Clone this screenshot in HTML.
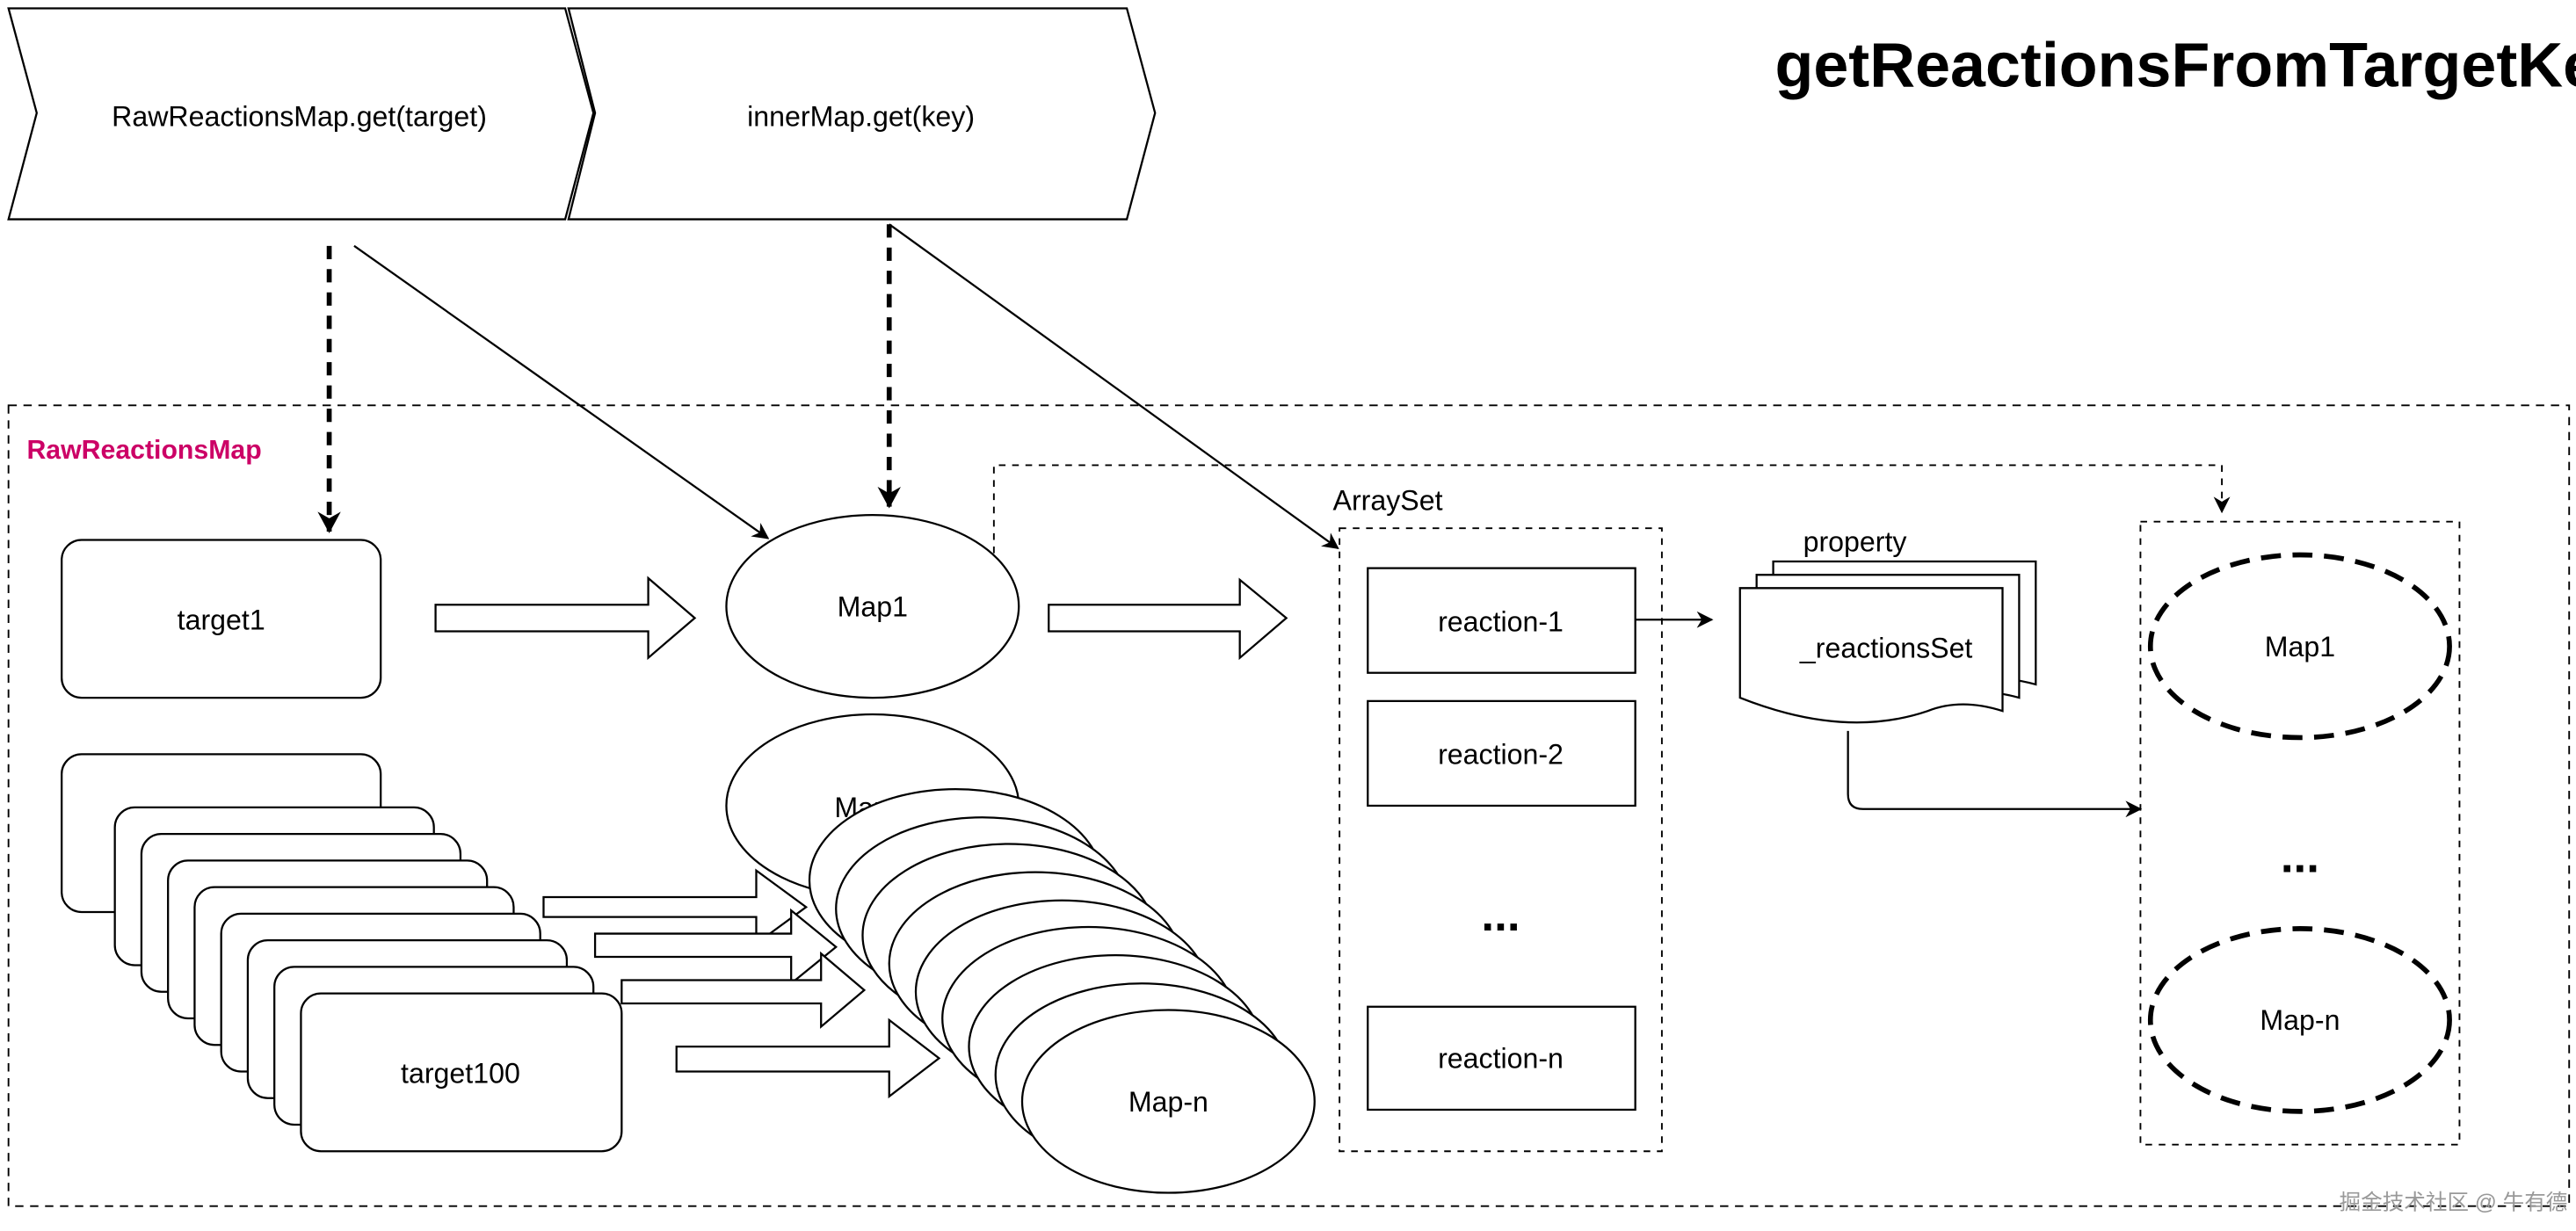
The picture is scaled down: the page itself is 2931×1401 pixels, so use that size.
<!DOCTYPE html>
<html><head><meta charset="utf-8"><style>
html,body{margin:0;padding:0;background:#fff;}
svg{display:block;}
text{font-family:"Liberation Sans",Arial,sans-serif;}
</style></head><body>
<svg width="2931" height="1401" viewBox="0 0 1550 741" xmlns="http://www.w3.org/2000/svg">
<defs>
<marker id="ah" markerWidth="10" markerHeight="10" refX="9" refY="5" orient="auto" markerUnits="userSpaceOnUse">
<path d="M0,0 L10,5 L0,10 L3,5 z" fill="#000"/></marker>
<marker id="ah2" markerWidth="14" markerHeight="14" refX="12" refY="7" orient="auto" markerUnits="userSpaceOnUse">
<path d="M0,0 L13,7 L0,14 L4,7 z" fill="#000"/></marker>
</defs>
<rect width="1550" height="741" fill="#fff"/>
<g fill="#fff" stroke="#000" stroke-width="1.2">
<polygon points="5,5 340,5 357,68 340,132 5,132 22,68"/>
<polygon points="342,5 678,5 695,68 678,132 342,132 358,68"/>
</g>
<text x="180" y="76" font-size="17" text-anchor="middle">RawReactionsMap.get(target)</text>
<text x="518" y="76" font-size="17" text-anchor="middle">innerMap.get(key)</text>
<text x="1068" y="52" font-size="38" font-weight="bold">getReactionsFromTargetKe</text>

<rect x="5" y="244" width="1541" height="482" fill="none" stroke="#000" stroke-dasharray="5,4"/>
<text x="16" y="276" font-size="16" font-weight="bold" fill="#cc0066">RawReactionsMap</text>

<line x1="198" y1="148" x2="198" y2="320" stroke="#000" stroke-width="3" stroke-dasharray="8,6" marker-end="url(#ah2)"/>
<line x1="535" y1="135" x2="535" y2="305" stroke="#000" stroke-width="3" stroke-dasharray="8,6" marker-end="url(#ah2)"/>
<line x1="213" y1="148" x2="462" y2="324" stroke="#000" stroke-width="1.2" marker-end="url(#ah)"/>
<line x1="535" y1="135" x2="805" y2="330" stroke="#000" stroke-width="1.2" marker-end="url(#ah)"/>

<rect x="37" y="325" width="192" height="95" rx="12" fill="#fff" stroke="#000" stroke-width="1.2"/>
<text x="133" y="379" font-size="17" text-anchor="middle">target1</text>

<g fill="#fff" stroke="#000" stroke-width="1.2">
<polygon points="262,364 390,364 390,348 418,372 390,396 390,380 262,380"/>
<polygon points="631,364 746,364 746,349 774,372 746,396 746,380 631,380"/>
</g>
<ellipse cx="525" cy="365" rx="88" ry="55" fill="#fff" stroke="#000" stroke-width="1.2"/>
<text x="525" y="371" font-size="17" text-anchor="middle">Map1</text>

<path d="M598,333 V280 H1337 V308" fill="none" stroke="#000" stroke-dasharray="4,4" marker-end="url(#ah)"/>

<!-- target stack -->
<g fill="#fff" stroke="#000" stroke-width="1.2">
<rect x="37" y="454" width="192" height="95" rx="12"/>
<rect x="69" y="486" width="192" height="95" rx="12"/>
<rect x="85" y="502" width="192" height="95" rx="12"/>
<rect x="101" y="518" width="192" height="95" rx="12"/>
<rect x="117" y="534" width="192" height="95" rx="12"/>
<rect x="133" y="550" width="192" height="95" rx="12"/>
<rect x="149" y="566" width="192" height="95" rx="12"/>
<rect x="165" y="582" width="192" height="95" rx="12"/>
<rect x="181" y="598" width="193" height="95" rx="12"/>
</g>
<text x="277" y="652" font-size="17" text-anchor="middle">target100</text>

<!-- map stack -->
<g fill="#fff" stroke="#000" stroke-width="1.2">
<ellipse cx="525" cy="485" rx="88" ry="55"/>
<text x="502" y="492" font-size="17" stroke="none" fill="#000">Map2</text>
<polygon points="327,540 455,540 455,524 485,546 455,568 455,552 327,552"/>
<polygon points="358,562 476,562 476,548 503,570 476,592 476,576 358,576"/>
<polygon points="374,590 494,590 494,574 520,596 494,618 494,604 374,604"/>
<polygon points="407,630 535,630 535,614 565,637 535,660 535,645 407,645"/>
<ellipse cx="575" cy="530" rx="88" ry="55"/>
<ellipse cx="591" cy="547" rx="88" ry="55"/>
<ellipse cx="607" cy="563" rx="88" ry="55"/>
<ellipse cx="623" cy="580" rx="88" ry="55"/>
<ellipse cx="639" cy="597" rx="88" ry="55"/>
<ellipse cx="655" cy="613" rx="88" ry="55"/>
<ellipse cx="671" cy="630" rx="88" ry="55"/>
<ellipse cx="687" cy="647" rx="88" ry="55"/>
<ellipse cx="703" cy="663" rx="88" ry="55"/>
</g>
<text x="703" y="669" font-size="17" text-anchor="middle">Map-n</text>

<!-- ArraySet -->
<text x="802" y="307" font-size="17">ArraySet</text>
<rect x="806" y="318" width="194" height="375" fill="none" stroke="#000" stroke-dasharray="4,4"/>
<g fill="#fff" stroke="#000" stroke-width="1.2">
<rect x="823" y="342" width="161" height="63"/>
<rect x="823" y="422" width="161" height="63"/>
<rect x="823" y="606" width="161" height="62"/>
</g>
<text x="903" y="380" font-size="17" text-anchor="middle">reaction-1</text>
<text x="903" y="460" font-size="17" text-anchor="middle">reaction-2</text>
<text x="903" y="643" font-size="17" text-anchor="middle">reaction-n</text>
<text x="903" y="560" font-size="28" font-weight="bold" text-anchor="middle">...</text>

<line x1="984" y1="373" x2="1030" y2="373" stroke="#000" stroke-width="1.2" marker-end="url(#ah)"/>

<!-- property multidoc -->
<text x="1085" y="332" font-size="17">property</text>
<g fill="#fff" stroke="#000" stroke-width="1.2">
<path d="M1067,338 H1225 V412 Q1200,405 1180,412 Q1140,425 1067,405 Z"/>
<path d="M1057,346 H1215 V420 Q1190,413 1170,420 Q1130,433 1057,413 Z"/>
<path d="M1047,354 H1205 V428 Q1180,420 1160,428 Q1110,445 1047,420 Z"/>
</g>
<text x="1135" y="396" font-size="17" text-anchor="middle">_reactionsSet</text>
<path d="M1112,440 V478 Q1112,487 1121,487 H1288" fill="none" stroke="#000" stroke-width="1.2" marker-end="url(#ah)"/>

<rect x="1288" y="314" width="192" height="375" fill="none" stroke="#000" stroke-dasharray="4,4"/>
<g fill="#fff" stroke="#000" stroke-width="3" stroke-dasharray="12,7">
<ellipse cx="1384" cy="389" rx="90" ry="55"/>
<ellipse cx="1384" cy="614" rx="90" ry="55"/>
</g>
<text x="1384" y="395" font-size="17" text-anchor="middle">Map1</text>
<text x="1384" y="620" font-size="17" text-anchor="middle">Map-n</text>
<text x="1384" y="525" font-size="28" font-weight="bold" text-anchor="middle">...</text>

<text x="1545" y="728" font-size="13" fill="#999" text-anchor="end" font-family="Liberation Sans, Noto Sans CJK SC, sans-serif">掘金技术社区 @ 牛有德</text>
</svg>
</body></html>
